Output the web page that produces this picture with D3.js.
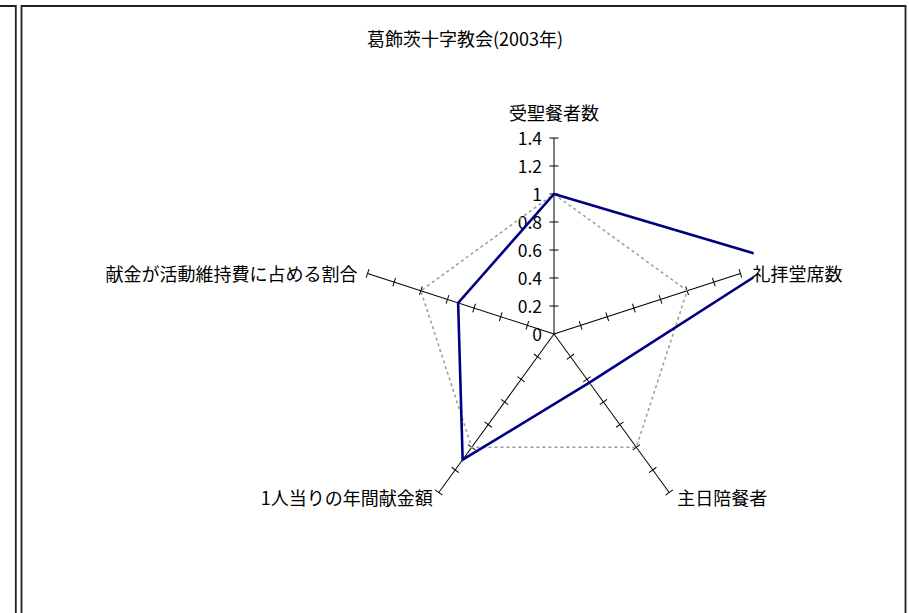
<!DOCTYPE html>
<html>
<head>
<meta charset="utf-8">
<script src="https://cdn.jsdelivr.net/npm/d3@7"></script>
<style>
  body { margin: 0; background: #fff; }
  svg text { font-family: "Noto Sans CJK JP", "Noto Sans", sans-serif; fill: #000; }
</style>
</head>
<body>
<div id="graph"></div>
<script>
const categories = ["受聖餐者数", "礼拝堂席数", "主日陪餐者", "1人当りの年間献金額", "献金が活動維持費に占める割合"];
const church = [1, 1.69, 0.43, 1.11, 0.72];
const standard = [1, 1, 1, 1, 1];
const ticks = [0, 0.2, 0.4, 0.6, 0.8, 1, 1.2, 1.4];
const tickLabels = ["0", "0.2", "0.4", "0.6", "0.8", "1", "1.2", "1.4"];
const title = "葛飾茨十字教会(2003年)";

function render(){
    const width = 909, height = 613;
    const cx = 554, cy = 334;

    const svg = d3.select('#graph')
        .append('svg')
        .attr('width', width)
        .attr('height', height);

    // frames
    const frame = svg.append('g').attr('fill', 'none');
    frame.append('path')
        .attr('d', 'M0,6H15.8V613')
        .attr('stroke', '#222').attr('stroke-width', 1.8);
    frame.append('path')
        .attr('d', 'M21.5,613V6H905.5V613')
        .attr('stroke', '#222').attr('stroke-width', 1.8);

    svg.append('text')
        .attr('x', 465)
        .attr('y', 46)
        .attr('text-anchor', 'middle')
        .style('font-size', '18px')
        .text(title);

    const r = d3.scaleLinear()
        .domain([0, 1.4])
        .range([0, 196]);

    const angle = d3.scalePoint()
        .domain(d3.range(categories.length + 1))
        .range([0, 2 * Math.PI]);

    const g = svg.append('g')
        .attr('transform', `translate(${cx},${cy})`);

    g.append('clipPath')
        .attr('id', 'plot')
        .append('rect')
        .attr('x', -199).attr('y', -240)
        .attr('width', 398.7).attr('height', 480);

    /* spokes and ticks ------------*/
    const axes = g.append('g').attr('class', 'axes');
    categories.forEach((c, i) => {
        const a = angle(i);
        const ax = axes.append('g')
            .attr('transform', `rotate(${a * 180 / Math.PI})`);
        ax.append('line')
            .attr('x1', 0).attr('y1', 0)
            .attr('x2', 0).attr('y2', -r(1.4))
            .attr('stroke', '#000').attr('stroke-width', 1);
        ax.selectAll('line.tick')
            .data(ticks.slice(1))
            .enter().append('line')
            .attr('class', 'tick')
            .attr('x1', -4.5).attr('x2', 4.5)
            .attr('y1', d => -r(d)).attr('y2', d => -r(d))
            .attr('stroke', '#000').attr('stroke-width', 1);
    });

    g.append('g')
        .selectAll('text')
        .data(ticks)
        .enter().append('text')
        .attr('x', -12)
        .attr('y', d => -r(d))
        .attr('dy', '0.38em')
        .attr('text-anchor', 'end')
        .style('font-size', '17.5px')
        .text((d, i) => tickLabels[i]);

    /* series ------------*/
    const line = d3.lineRadial()
        .angle((d, i) => angle(i))
        .radius(d => r(d))
        .curve(d3.curveLinearClosed);

    const series = g.append('g').attr('clip-path', 'url(#plot)');
    series.append('path')
        .attr('d', line(standard))
        .attr('fill', 'none')
        .attr('stroke', '#9a9a9a')
        .attr('stroke-width', 1.5)
        .attr('stroke-dasharray', '3,3');
    series.append('path')
        .attr('d', line(church))
        .attr('fill', 'none')
        .attr('stroke', '#000080')
        .attr('stroke-width', 2.6)
        .attr('stroke-linejoin', 'miter');

    /* category labels ------------*/
    const labelPos = [
        {dx: 0, dy: -18, anchor: 'middle', base: 'auto'},
        {dx: 12, dy: 0, anchor: 'start', base: 'central'},
        {dx: 8, dy: 4, anchor: 'start', base: 'central'},
        {dx: -6, dy: 4, anchor: 'end', base: 'central'},
        {dx: -10, dy: 0, anchor: 'end', base: 'central'}
    ];
    g.append('g')
        .selectAll('text')
        .data(categories)
        .enter().append('text')
        .attr('x', (d, i) => r(1.4) * Math.sin(angle(i)) + labelPos[i].dx)
        .attr('y', (d, i) => -r(1.4) * Math.cos(angle(i)) + labelPos[i].dy)
        .attr('text-anchor', (d, i) => labelPos[i].anchor)
        .attr('dominant-baseline', (d, i) => labelPos[i].base)
        .style('font-size', '18px')
        .text(d => d);
}

render()
</script>
</body>
</html>
